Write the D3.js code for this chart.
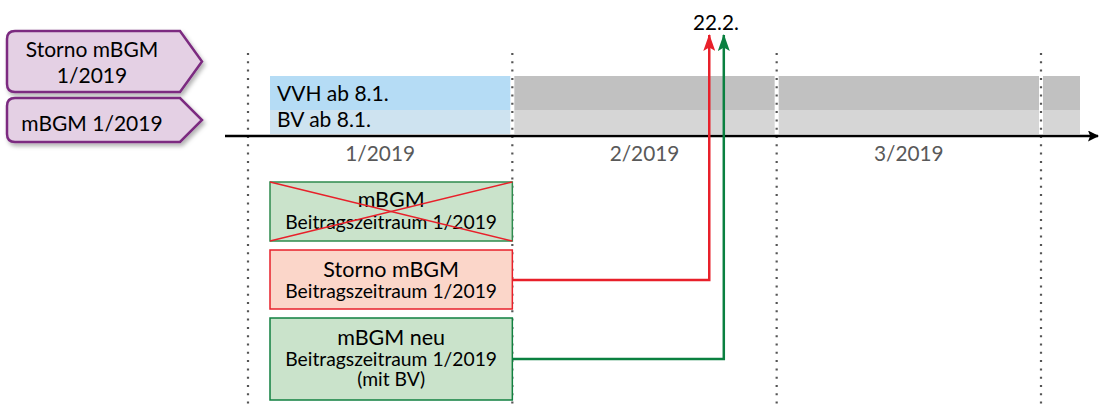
<!DOCTYPE html>
<html><head><meta charset="utf-8">
<script src="https://cdn.jsdelivr.net/npm/d3@7"></script>
<style>body{margin:0;background:#fff}svg{display:block}text{font-family:Lato,"Open Sans",sans-serif}</style>
</head><body><svg id="c" width="1099" height="410"></svg>
<script>
// Data
const periods = ["1/2019", "2/2019", "3/2019"];
const rows = ["VVH ab 8.1.", "BV ab 8.1."];
const tags = [["Storno mBGM", "1/2019"], ["mBGM 1/2019"]];
const messages = [
  {lines: ["mBGM", "Beitragszeitraum 1/2019"], type: "cancelled"},
  {lines: ["Storno mBGM", "Beitragszeitraum 1/2019"], type: "storno"},
  {lines: ["mBGM neu", "Beitragszeitraum 1/2019", "(mit BV)"], type: "new"}
];
const eventDate = "22.2.";
const eventPos = [1.745, 1.80]; // position in period units (red, green)

const svg = d3.select("#c");
const x = d3.scaleLinear().domain([0, 3]).range([248, 1041]);
const defs = svg.append("defs");
const f = defs.append("filter").attr("id","sh").attr("x","-10%").attr("y","-10%").attr("width","130%").attr("height","140%");
f.append("feDropShadow").attr("dx",2).attr("dy",3).attr("stdDeviation",2).attr("flood-color","#000").attr("flood-opacity",0.3);
function marker(id, col, len, wid){
  defs.append("marker").attr("id",id).attr("viewBox",`0 0 ${len} ${wid}`).attr("refX",len-1).attr("refY",wid/2)
    .attr("markerWidth",len).attr("markerHeight",wid).attr("markerUnits","userSpaceOnUse").attr("orient","auto")
    .append("path").attr("d",`M0,0L${len},${wid/2}L0,${wid}L${len*0.2},${wid/2}Z`).attr("fill",col);
}
marker("mr","#e8202a",17,12); marker("mg","#0a8040",17,12); marker("mk","#000",11,11);

// bands
const rowH = [34, 24];
const rowY = [76, 110];
const rowBase = [101, 127];
const blue = ["#b5dcf5", "#cee3f0"], gray = ["#c1c1c1", "#d6d6d6"];
rows.forEach((r, i) => {
  svg.append("rect").attr("x", 270).attr("y", rowY[i]).attr("width", x(1) - 270 - 2).attr("height", rowH[i]).attr("fill", blue[i]);
  [[x(1)+2, x(2)-2], [x(2)+2, x(3)-2], [x(3)+2, 1080]].forEach(([a,b]) => {
    svg.append("rect").attr("x", a).attr("y", rowY[i]).attr("width", b - a).attr("height", rowH[i]).attr("fill", gray[i]);
  });
  svg.append("text").attr("x", 277).attr("y", rowBase[i]).attr("font-size", 21).attr("fill","#000").text(r);
});

// dotted lines
d3.range(0, 4).forEach(i => {
  svg.append("line").attr("x1", x(i)).attr("x2", x(i)).attr("y1", 53).attr("y2", 410)
    .attr("stroke", "#555").attr("stroke-width", 2.2).attr("stroke-dasharray", "2,6.3").attr("stroke-linecap","butt");
});

// axis
svg.append("line").attr("x1", 225).attr("x2", 1098).attr("y1", 136).attr("y2", 136)
  .attr("stroke", "#000").attr("stroke-width", 2.5).attr("marker-end", "url(#mk)");
periods.forEach((p, i) => {
  svg.append("text").attr("x", (x(i) + x(i+1)) / 2).attr("y", 161).attr("text-anchor","middle")
    .attr("font-size", 20.8).attr("fill", "#595959").text(p);
});

// tags (pentagons)
const tagBox = [[7, 31, 92], [7, 98, 142]];
const tagBase = [[57, 83], [131]];
tags.forEach((t, i) => {
  const [x0, y0, y1] = tagBox[i];
  const tip = 202, cut = 180, r = 8, ym = (y0 + y1) / 2;
  const d = `M${x0+r},${y0}L${cut},${y0}L${tip},${ym}L${cut},${y1}L${x0+r},${y1}Q${x0},${y1} ${x0},${y1-r}L${x0},${y0+r}Q${x0},${y0} ${x0+r},${y0}Z`;
  svg.append("path").attr("d", d).attr("fill", "#e4d0e4").attr("stroke", "#7b2c80").attr("stroke-width", 2.5).attr("filter","url(#sh)");
  t.forEach((l, j) => {
    svg.append("text").attr("x", 92).attr("y", tagBase[i][j]).attr("text-anchor","middle")
      .attr("font-size", 21).attr("fill","#000").text(l);
  });
});

// message boxes
const boxY = [[182, 241], [250, 309], [318, 400]];
const boxBase = [[207, 229], [277, 298], [345, 366, 386]];
const style = {cancelled: ["#cae3cb", "#2e8b4e"], storno: ["#fbd6c9", "#e8202a"], "new": ["#cae3cb", "#118040"]};
const bx0 = 270, bx1 = x(1);
messages.forEach((m, i) => {
  const [y0, y1] = boxY[i];
  const [fill, st] = style[m.type];
  svg.append("rect").attr("x", bx0).attr("y", y0).attr("width", bx1 - bx0).attr("height", y1 - y0)
    .attr("fill", fill).attr("stroke", st).attr("stroke-width", 1.5);
  m.lines.forEach((l, j) => {
    svg.append("text").attr("x", (bx0 + bx1) / 2).attr("y", boxBase[i][j]).attr("text-anchor","middle")
      .attr("font-size", j === 0 ? 21.5 : 19.3).attr("fill","#000").text(l);
  });
  if (m.type === "cancelled") {
    svg.append("line").attr("x1", bx0).attr("y1", y0).attr("x2", bx1).attr("y2", y1).attr("stroke", "#e8202a").attr("stroke-width", 1.5);
    svg.append("line").attr("x1", bx0).attr("y1", y1).attr("x2", bx1).attr("y2", y0).attr("stroke", "#e8202a").attr("stroke-width", 1.5);
  }
});

// connectors
const conn = [{y: 280, xp: eventPos[0], col: "#e8202a", m: "mr"}, {y: 359, xp: eventPos[1], col: "#0a8040", m: "mg"}];
conn.forEach(c => {
  svg.append("path").attr("d", `M${bx1},${c.y}H${x(c.xp)}V35`).attr("fill","none")
    .attr("stroke", c.col).attr("stroke-width", 2.5).attr("marker-end", `url(#${c.m})`);
});
svg.append("text").attr("x", 716).attr("y", 30).attr("text-anchor","middle")
  .attr("font-size", 20.7).attr("fill","#000").text(eventDate);
</script></body></html>
